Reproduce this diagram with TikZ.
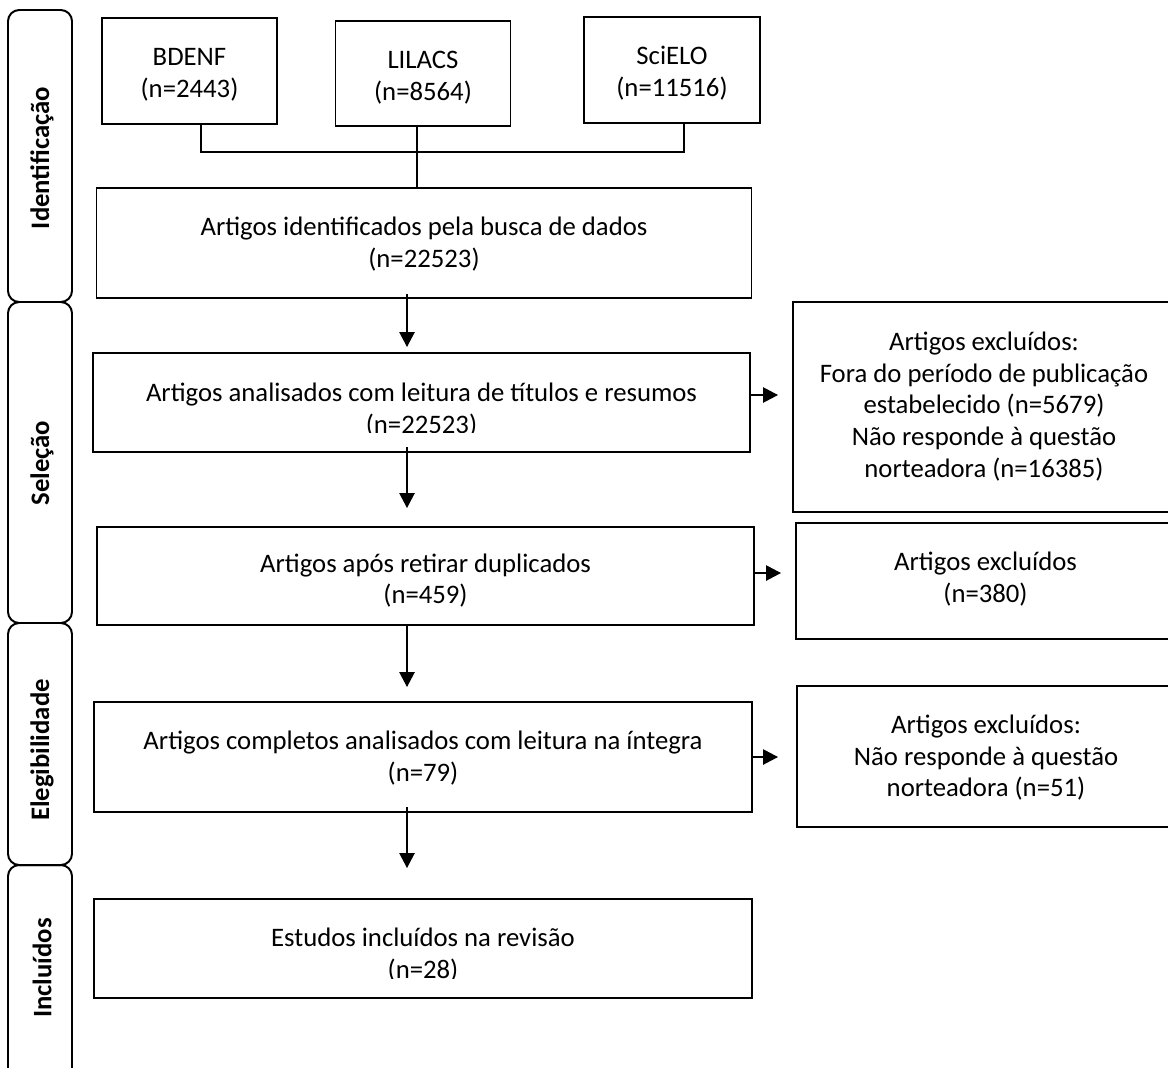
\documentclass[tikz,border=0pt]{standalone}
\usepackage{fontspec}
\setmainfont{Carlito}
\usetikzlibrary{arrows.meta}
\begin{document}
\begin{tikzpicture}[x=0.025cm,y=-0.025cm,
  font=\fontsize{19}{22.5}\selectfont,
  mainbox/.style={draw, line width=1.3pt, inner sep=0pt, rectangle},
  txt/.style={inner sep=0pt, align=center, anchor=north},
  panel/.style={draw, line width=1.4pt, rounded corners=0.28cm},
  lbl/.style={font=\fontsize{19}{23}\selectfont\bfseries, rotate=90, inner sep=0pt},
  conn/.style={line width=1pt},
  arr/.style={line width=1pt, -{Triangle[length=0.37cm,width=0.38cm]}},
  cover/.style={fill=white, draw=none}]
\newcommand\fl{\rule{0pt}{15pt}}
\useasboundingbox (0,0) rectangle (1168,1067);
\fill[white] (0,0) rectangle (1168,1067);

% side panels
\draw[panel] (8,10) rectangle (72,302);
\draw[panel] (8,302) rectangle (72,623);
\draw[panel] (8,623) rectangle (72,865);
\draw[panel] (8,865) rectangle (72,1110);
\node[lbl] (l1) at (42,158) {Identificação};
\node[lbl] (l2) at (42,463) {Seleção};
\node[lbl] (l3) at (42,750) {Elegibilidade};
\node[lbl] (l4) at (42,968) {Incluídos};

% top boxes
\node[mainbox, minimum width=175*0.025cm, minimum height=106*0.025cm] (bdenf) at (189.5,71) {};
\node[mainbox, minimum width=175*0.025cm, minimum height=105*0.025cm] (lilacs) at (423,73.5) {};
\node[mainbox, minimum width=176*0.025cm, minimum height=106*0.025cm] (scielo) at (672,70) {};
\node[txt] (bdenfT) at ([yshift=-0.68cm]bdenf.north) {\fl BDENF\\(n=2443)};
\node[txt] (lilacsT) at ([yshift=-0.68cm]lilacs.north) {\fl LILACS\\(n=8564)};
\node[txt] (scieloT) at ([yshift=-0.68cm]scielo.north) {\fl SciELO\\(n=11516)};

% main column
\node[mainbox, minimum width=655*0.025cm, minimum height=110*0.025cm] (ident) at (424,243) {};
\node[mainbox, minimum width=657*0.025cm, minimum height=99*0.025cm] (anal) at (421.5,402.5) {};
\node[mainbox, minimum width=657*0.025cm, minimum height=98*0.025cm] (apos) at (425.5,576) {};
\node[mainbox, minimum width=658*0.025cm, minimum height=110*0.025cm] (comp) at (423,757) {};
\node[mainbox, minimum width=658*0.025cm, minimum height=99*0.025cm] (est) at (423,948.5) {};
\node[txt] (identT) at ([yshift=-0.68cm]ident.north) {\fl Artigos identificados pela busca de dados\\(n=22523)};
\node[txt] (analT) at ([yshift=-0.70cm]anal.north) {\fl Artigos analisados com leitura de títulos e resumos\\(n=22523)};
\node[txt] (aposT) at ([yshift=-0.62cm]apos.north) {\fl Artigos após retirar duplicados\\(n=459)};
\node[txt] (compT) at ([yshift=-0.68cm]comp.north) {\fl Artigos completos analisados com leitura na íntegra\\(n=79)};
\node[txt] (estT) at ([yshift=-0.68cm]est.north) {\fl Estudos incluídos na revisão\\(n=28)};

% clipped second lines
\fill[cover] (100,433) rectangle (745,450);
\fill[cover] (104,608) rectangle (747,624);
\fill[cover] (101,979) rectangle (745,997);

% right boxes
\node[mainbox, minimum width=382*0.025cm, minimum height=210*0.025cm] (exc1) at (984,407) {};
\node[mainbox, minimum width=379*0.025cm, minimum height=116*0.025cm] (exc2) at (985.5,581) {};
\node[mainbox, minimum width=378*0.025cm, minimum height=141*0.025cm] (exc3) at (986,756.5) {};
\node[txt] (exc1T) at ([yshift=-0.70cm]exc1.north) {\fl Artigos excluídos:\\Fora do período de publicação\\estabelecido (n=5679)\\Não responde à questão\\norteadora (n=16385)};
\node[txt] (exc2T) at ([yshift=-0.68cm]exc2.north) {\fl Artigos excluídos\\(n=380)};
\node[txt] (exc3T) at ([yshift=-0.68cm]exc3.north) {\fl Artigos excluídos:\\Não responde à questão\\norteadora (n=51)};

% top connectors
\coordinate (t1) at (201,152);
\coordinate (t2) at (417,152);
\coordinate (t3) at (684,152);
\draw[conn] (bdenf.south -| t1) -- (t1) -- (t3) -- (scielo.south -| t3);
\draw[conn] (lilacs.south -| t2) -- (ident.north -| t2);

% down arrows
\coordinate (d1) at (407,347);
\coordinate (d2) at (407,508);
\coordinate (d3) at (407,687);
\coordinate (d4) at (407,868);
\draw[arr] ([yshift=0.12cm]ident.south -| d1) -- (d1);
\draw[arr] ([yshift=0.15cm]anal.south -| d2) -- (d2);
\draw[arr] (apos.south -| d3) -- (d3);
\draw[arr] ([yshift=0.15cm]comp.south -| d4) -- (d4);

% right arrows
\coordinate (r1) at (778,395);
\coordinate (r2) at (781,573);
\coordinate (r3) at (778,757);
\draw[arr] (anal.east |- r1) -- (r1);
\draw[arr] (apos.east |- r2) -- (r2);
\draw[arr] (comp.east |- r3) -- (r3);
\end{tikzpicture}
\end{document}
